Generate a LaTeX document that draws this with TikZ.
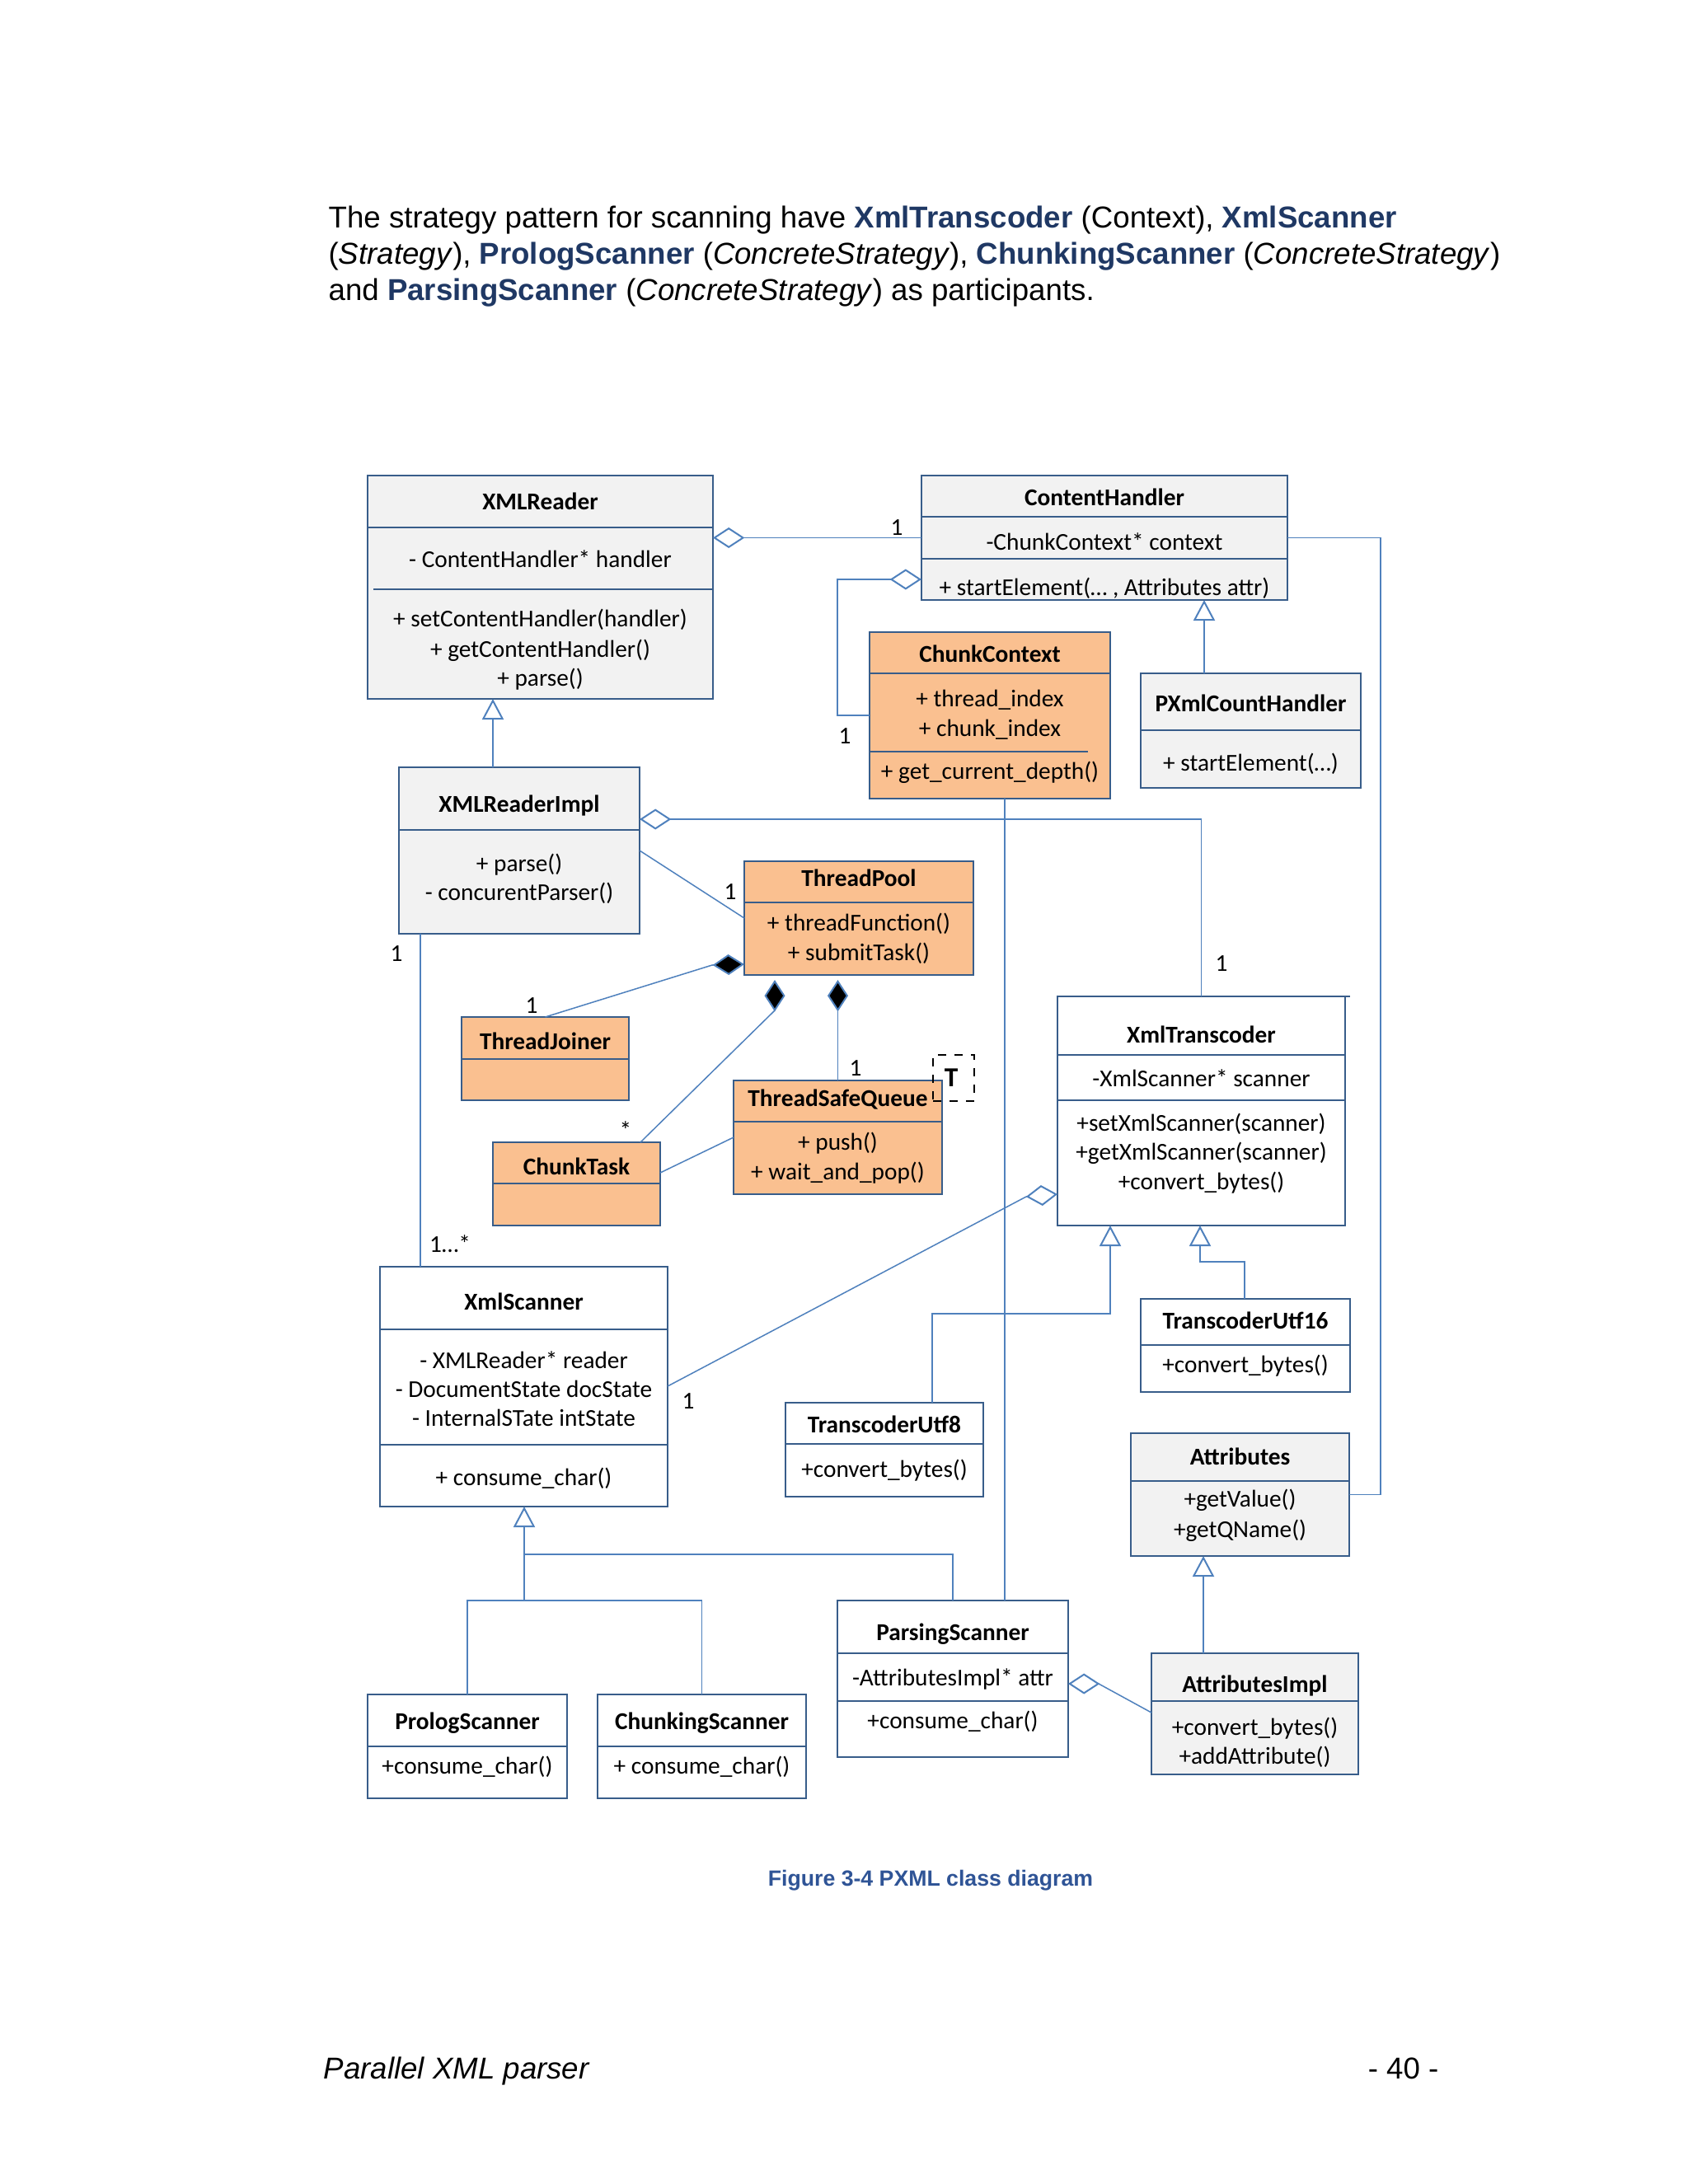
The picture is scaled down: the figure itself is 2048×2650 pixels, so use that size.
\documentclass[tikz,border=0pt]{standalone}
\usepackage{fontspec}
\setmainfont{Carlito}
\newfontfamily\arialf{Liberation Sans}
\usetikzlibrary{arrows.meta}
\definecolor{bordc}{RGB}{56,93,138}
\definecolor{connc}{RGB}{79,129,189}
\definecolor{greyf}{RGB}{242,242,242}
\definecolor{orangef}{RGB}{250,192,144}
\definecolor{hdrblue}{RGB}{31,56,100}
\definecolor{capblue}{RGB}{47,84,150}
\newcounter{tn}
\newcommand\umlbox[6]{%
  \pgfmathsetmacro\bw{(#4-#2)*0.3}%
  \pgfmathsetmacro\bh{(#5-#3)*0.3}%
  \node[#6, minimum width=\bw pt, minimum height=\bh pt] (#1) at (#2,#3) {};}
\newcommand\usep[3]{\draw[sepl] (#1,#3) -- (#2,#3);}
\newcommand\ut[4][txt]{\stepcounter{tn}\node[#1] (t\thetn) at (#2,#3) {#4};}
\newcommand\hb[1]{\textbf{\color{hdrblue}#1}}
\begin{document}
\begin{tikzpicture}[x=0.3pt,y=-0.3pt,
  cls/.style={draw=bordc, line width=0.6pt, inner sep=0pt, outer sep=0pt, anchor=north west},
  gcls/.style={cls, fill=greyf},
  ocls/.style={cls, fill=orangef},
  wcls/.style={cls, fill=white},
  sepl/.style={draw=bordc, line width=0.6pt},
  conn/.style={draw=connc, line width=0.45pt},
  txt/.style={font=\fontsize{8.8}{10.8}\selectfont, anchor=base, inner sep=0pt},
  ttl/.style={font=\fontsize{8.8}{10.8}\selectfont\bfseries, anchor=base, inner sep=0pt},
  hdr/.style={font=\arialf\fontsize{11}{13}\selectfont, anchor=base west, inner sep=0pt},
  odia/.tip={Diamond[fill=white, length=11.5pt, width=7.5pt, line width=0.6pt]},
  fdia/.tip={Diamond[fill=black, length=11.5pt, width=7.5pt, line width=0.6pt]},
  inh/.tip={Triangle[fill=white, length=7.5pt, width=7.8pt, line width=0.6pt]},
  line join=miter]
\fill[white] (0,0) rectangle (2048,2650);
\useasboundingbox (0,0) rectangle (2048,2650);

% header
\node[hdr] (h1) at (398,276) {The strategy pattern for scanning have \hb{XmlTranscoder} (Context), \hb{XmlScanner}};
\node[hdr] (h2) at (398,320) {(\textit{Strategy}), \hb{PrologScanner} (\textit{ConcreteStrategy}), \hb{ChunkingScanner} (\textit{ConcreteStrategy})};
\node[hdr] (h3) at (398,364) {and \hb{ParsingScanner} (\textit{ConcreteStrategy}) as participants.};

% boxes
\umlbox{xr}{446}{577}{865}{848}{gcls}
\usep{446}{865}{640}\usep{453}{865}{715}
\ut[ttl]{655.5}{618}{XMLReader}
\ut{655.5}{688}{- ContentHandler* handler}
\ut{655.5}{760}{+ setContentHandler(handler)}
\ut{655.5}{797}{+ getContentHandler()}
\ut{655.5}{832}{+ parse()}

\umlbox{ch}{1118}{577}{1562}{728}{gcls}
\usep{1118}{1562}{627}\usep{1118}{1562}{678}
\ut[ttl]{1340}{613}{ContentHandler}
\ut{1340}{667}{-ChunkContext* context}
\ut{1340}{722}{+ startElement(… , Attributes attr)}

\umlbox{cc}{1055}{767}{1347}{969}{ocls}
\usep{1055}{1347}{817}\usep{1055}{1320}{912}
\ut[ttl]{1201}{803}{ChunkContext}
\ut{1201}{857}{+ thread\_index}
\ut{1201}{893}{+ chunk\_index}
\ut{1201}{945}{+ get\_current\_depth()}

\umlbox{px}{1384}{817}{1651}{956}{gcls}
\usep{1384}{1651}{886}
\ut[ttl]{1517.5}{863}{PXmlCountHandler}
\ut{1517.5}{935}{+ startElement(…)}

\umlbox{xri}{484}{931}{776}{1133}{gcls}
\usep{484}{776}{1007}
\ut[ttl]{630}{985}{XMLReaderImpl}
\ut{630}{1057}{+ parse()}
\ut{630}{1092}{- concurentParser()}

\umlbox{tp}{903}{1045}{1181}{1183}{ocls}
\usep{903}{1181}{1095}
\ut[ttl]{1042}{1075}{ThreadPool}
\ut{1042}{1129}{+ threadFunction()}
\ut{1042}{1165}{+ submitTask()}

\umlbox{tj}{560}{1234}{763}{1335}{ocls}
\usep{560}{763}{1285}
\ut[ttl]{661.5}{1273}{ThreadJoiner}

\umlbox{ct}{598}{1386}{801}{1487}{ocls}
\usep{598}{801}{1436}
\ut[ttl]{699.5}{1425}{ChunkTask}

\umlbox{tsq}{890}{1311}{1143}{1449}{ocls}
\usep{890}{1143}{1361}
\ut[ttl]{1016.5}{1342}{ThreadSafeQueue}
\ut{1016.5}{1395}{+ push()}
\ut{1016.5}{1431}{+ wait\_and\_pop()}
\node[draw=black, dashed, line width=0.6pt, minimum width=15pt, minimum height=16.8pt, inner sep=0pt, anchor=north west] (tmpl) at (1131,1279) {};
\node[font=\fontsize{10}{12}\selectfont\bfseries, anchor=base, inner sep=0pt] (tT) at (1154,1318) {T};

\umlbox{xt}{1283}{1209}{1632}{1487}{wcls}
\draw[sepl] (1632,1209) -- (1638,1209);
\usep{1283}{1632}{1280}\usep{1283}{1632}{1335}
\ut[ttl]{1457.5}{1265}{XmlTranscoder}
\ut{1457.5}{1318}{-XmlScanner* scanner}
\ut{1457.5}{1372}{+setXmlScanner(scanner)}
\ut{1457.5}{1407}{+getXmlScanner(scanner)}
\ut{1457.5}{1443}{+convert\_bytes()}

\umlbox{xs}{461}{1537}{810}{1828}{wcls}
\usep{461}{810}{1613}\usep{461}{810}{1753}
\ut[ttl]{635.5}{1589}{XmlScanner}
\ut{635.5}{1660}{- XMLReader* reader}
\ut{635.5}{1695}{- DocumentState docState}
\ut{635.5}{1730}{- InternalSTate intState}
\ut{635.5}{1802}{+ consume\_char()}

\umlbox{u8}{953}{1702}{1193}{1816}{wcls}
\usep{953}{1193}{1752}
\ut[ttl]{1073}{1738}{TranscoderUtf8}
\ut{1073}{1792}{+convert\_bytes()}

\umlbox{u16}{1384}{1576}{1638}{1689}{wcls}
\usep{1384}{1638}{1632}
\ut[ttl]{1511}{1612}{TranscoderUtf16}
\ut{1511}{1665}{+convert\_bytes()}

\umlbox{at}{1372}{1739}{1637}{1888}{gcls}
\usep{1372}{1637}{1797}
\ut[ttl]{1504.5}{1777}{Attributes}
\ut{1504.5}{1828}{+getValue()}
\ut{1504.5}{1865}{+getQName()}

\umlbox{ps}{1016}{1942}{1296}{2132}{wcls}
\usep{1016}{1296}{2006}\usep{1016}{1296}{2064}
\ut[ttl]{1156}{1990}{ParsingScanner}
\ut{1156}{2045}{-AttributesImpl* attr}
\ut{1156}{2097}{+consume\_char()}

\umlbox{ai}{1397}{2006}{1648}{2153}{gcls}
\usep{1397}{1648}{2064}
\ut[ttl]{1522.5}{2053}{AttributesImpl}
\ut{1522.5}{2105}{+convert\_bytes()}
\ut{1522.5}{2140}{+addAttribute()}

\umlbox{pl}{446}{2056}{688}{2182}{wcls}
\usep{446}{688}{2119}
\ut[ttl]{567}{2098}{PrologScanner}
\ut{567}{2152}{+consume\_char()}

\umlbox{cs}{725}{2056}{978}{2182}{wcls}
\usep{725}{978}{2119}
\ut[ttl]{851.5}{2098}{ChunkingScanner}
\ut{851.5}{2152}{+ consume\_char()}

% connectors
\draw[conn, {odia}-] (xr.east |- ch.west) -- (ch.west);
\ut{1088}{649}{1}
\draw[conn, {odia}-] (1118,703) -| (1016,868) -- (cc.west);
\ut{1025}{902}{1}
\draw[conn] (ch.east) -| (1675,1813.5) -- (at.east);
\draw[conn, -{inh}] (1461,817) -- (1461,728);
\draw[conn, -{inh}] (598,931) -- (598,848);
\draw[conn, {odia}-] (776,994) -| (xt.north);
\ut{1482}{1178}{1}
\draw[conn] (xri.east) -- (tp.west);
\ut{886}{1091}{1}
\draw[conn] (510,1133) -- (510,1537);
\ut{481}{1166}{1}
\ut{546}{1519}{1…*}
\coordinate (tjd) at (864,1171);
\draw[conn, -{fdia}] (tjd) -- (903,1170);
\draw[conn] (tj.north) -- (tjd);
\ut{645}{1229}{1}
\coordinate (ctd) at (940,1226);
\draw[conn, -{fdia}] (ctd) -- (940,1189);
\draw[conn] (ctd) -- (777,1386);
\ut{759}{1381}{*}
\coordinate (tsd) at (1016.5,1226);
\draw[conn, -{fdia}] (tsd) -- (1016.5,1189);
\draw[conn] (tsd) -- (tsq.north);
\ut{1038}{1305}{1}
\draw[conn] (801,1423) -- (890,1380);
\draw[conn] (1219,969) -- (1219,1942);
\coordinate (xtd) at (1245,1452);
\draw[conn, -{odia}] (xtd) -- (1283,1449);
\draw[conn] (810,1682) -- (xtd);
\ut{835}{1709}{1}
\draw[conn, -{inh}] (1131,1702) |- (1347,1594) -- (1347,1487);
\draw[conn, -{inh}] (1510,1576) |- (1456,1531) -- (1456,1487);
\draw[conn] (pl.north) |- (cs.north |- 0,1942) -- (cs.north);
\draw[conn, -{inh}] (636,1942) -- (636,1828);
\draw[conn] (636,1886) -| (ps.north);
\draw[conn, -{inh}] (1460,2006) -- (1460,1888);
\coordinate (psd) at (1333,2043);
\draw[conn, -{odia}] (psd) -- (1296,2043);
\draw[conn] (psd) -- (1397,2078);

% caption and footer
\node[font=\arialf\bfseries\fontsize{8}{10}\selectfont, text=capblue, anchor=base, inner sep=0pt] (cap) at (1129,2288) {Figure 3-4 PXML class diagram};
\node[font=\arialf\itshape\fontsize{11}{13}\selectfont, anchor=base west, inner sep=0pt] (foot) at (392,2522) {Parallel XML parser};
\node[font=\arialf\fontsize{11}{13}\selectfont, anchor=base east, inner sep=0pt] (page) at (1746,2522) {- 40 -};
\end{tikzpicture}
\end{document}
